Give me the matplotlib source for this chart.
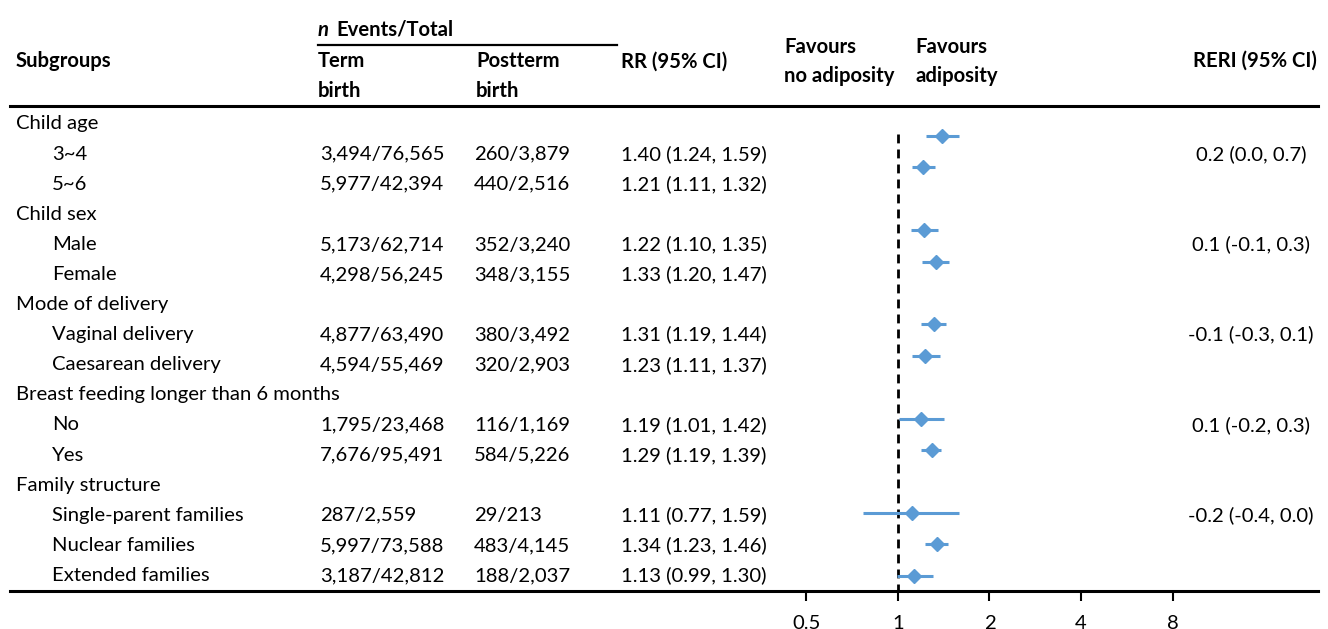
import matplotlib
matplotlib.use("Agg")
import matplotlib.pyplot as plt
import numpy as np

# ---- data ----
labels = ["Child age", "3~4", "5~6", "Child sex", "Male", "Female",
          "Mode of delivery", "Vaginal delivery", "Caesarean delivery",
          "Breast feeding longer than 6 months", "No", "Yes",
          "Family structure", "Single-parent families", "Nuclear families",
          "Extended families"]
is_header = [True, False, False, True, False, False, True, False, False,
             True, False, False, True, False, False, False]
term_birth = ["", "3,494/76,565", "5,977/42,394", "", "5,173/62,714", "4,298/56,245",
              "", "4,877/63,490", "4,594/55,469", "", "1,795/23,468", "7,676/95,491",
              "", "287/2,559", "5,997/73,588", "3,187/42,812"]
postterm_birth = ["", "260/3,879", "440/2,516", "", "352/3,240", "348/3,155",
                  "", "380/3,492", "320/2,903", "", "116/1,169", "584/5,226",
                  "", "29/213", "483/4,145", "188/2,037"]
rr = [np.nan, 1.40, 1.21, np.nan, 1.22, 1.33, np.nan, 1.31, 1.23, np.nan, 1.19, 1.29,
      np.nan, 1.11, 1.34, 1.13]
rr_lo = [np.nan, 1.24, 1.11, np.nan, 1.10, 1.20, np.nan, 1.19, 1.11, np.nan, 1.01, 1.19,
         np.nan, 0.77, 1.23, 0.99]
rr_hi = [np.nan, 1.59, 1.32, np.nan, 1.35, 1.47, np.nan, 1.44, 1.37, np.nan, 1.42, 1.39,
         np.nan, 1.59, 1.46, 1.30]
reri = ["", "0.2 (0.0, 0.7)", "", "", "0.1 (-0.1, 0.3)", "", "", "-0.1 (-0.3, 0.1)", "",
        "", "0.1 (-0.2, 0.3)", "", "", "-0.2 (-0.4, 0.0)", "", ""]
xticks = [0.5, 1, 2, 4, 8]
xtick_labels = ["0.5", "1", "2", "4", "8"]

# ---- style ----
plt.rcParams['font.family'] = ['Lato', 'DejaVu Sans']
FS = 14.6
BLUE = "#5B9BD5"
W, H = 1328, 629

fig = plt.figure(figsize=(W / 100, H / 100), dpi=100)

# forest panel: log2 scale, 1 at x=898 px, 91.5 px per doubling
px_per_dbl = 91.5
x_left, x_right, y_top, y_bot = 10, 1318, 106, 591
ax = fig.add_axes([x_left / W, 1 - y_bot / H, (x_right - x_left) / W, (y_bot - y_top) / H])
ax.set_xscale("log", base=2)
ax.set_xlim(2 ** ((x_left - 898) / px_per_dbl), 2 ** ((x_right - 898) / px_per_dbl))
row_step = 31.4
ax.set_ylim(15 + (y_bot - 575.7) / row_step, 1 - (136 - y_top) / row_step)

idx = np.arange(len(labels))
rr_a, lo_a, hi_a = np.array(rr), np.array(rr_lo), np.array(rr_hi)
ok = ~np.isnan(rr_a)
ax.hlines(idx[ok], lo_a[ok], hi_a[ok], color=BLUE, lw=2.2, zorder=2)
ax.plot(rr_a[ok], idx[ok], "D", color=BLUE, ms=7.2, mec=BLUE, zorder=3)
ax.vlines(1, 0.95, ax.get_ylim()[0], color="black", lw=2,
          linestyles=(0, (3.2, 2.2)), zorder=1)

for s in ["left", "right"]:
    ax.spines[s].set_visible(False)
ax.spines["bottom"].set_linewidth(2.2)
ax.spines["top"].set_linewidth(2.2)
ax.set_yticks([])
ax.set_xticks(xticks)
ax.set_xticklabels(xtick_labels, fontsize=FS)
ax.xaxis.set_minor_locator(matplotlib.ticker.NullLocator())
ax.tick_params(axis="x", direction="out", length=7, width=1.5, pad=10)
ax.patch.set_alpha(0)

# text overlay in pixel coordinates
tx = fig.add_axes([0, 0, 1, 1])
tx.set_xlim(0, W)
tx.set_ylim(H, 0)
tx.axis("off")
tx.patch.set_alpha(0)

col_term, col_post, col_rr, col_reri = 320, 474, 621, 1251
text_y0, text_step = 124, 30.1

# column headers
bold = dict(fontsize=FS, fontweight="bold", va="center")
tx.text(16, 61, "Subgroups", **bold)
tx.text(318, 30, "n", fontstyle="italic", **bold)
tx.text(336, 30, "Events/Total", **bold)
tx.plot([318, 617], [45, 45], color="black", lw=1.6)
tx.text(318, 61, "Term", **bold)
tx.text(318, 91, "birth", **bold)
tx.text(476, 61, "Postterm", **bold)
tx.text(476, 91, "birth", **bold)
tx.text(col_rr, 62, "RR (95% CI)", **bold)
tx.text(784, 47, "Favours", **bold)
tx.text(784, 76, "no adiposity", **bold)
tx.text(915, 47, "Favours", **bold)
tx.text(915, 76, "adiposity", **bold)
tx.text(1193, 61, "RERI (95% CI)", **bold)

# table rows
for i, lab in enumerate(labels):
    y = text_y0 + i * text_step
    tx.text(16 if is_header[i] else 52, y, lab, fontsize=FS, va="center")
    if term_birth[i]:
        tx.text(col_term, y, term_birth[i], fontsize=FS, va="center")
        tx.text(col_post, y, postterm_birth[i], fontsize=FS, va="center")
        tx.text(col_rr, y, f"{rr[i]:.2f} ({rr_lo[i]:.2f}, {rr_hi[i]:.2f})",
                fontsize=FS, va="center")
    if reri[i]:
        tx.text(col_reri, y, reri[i], fontsize=FS, va="center", ha="center")

fig.savefig("out.png", dpi=100)
